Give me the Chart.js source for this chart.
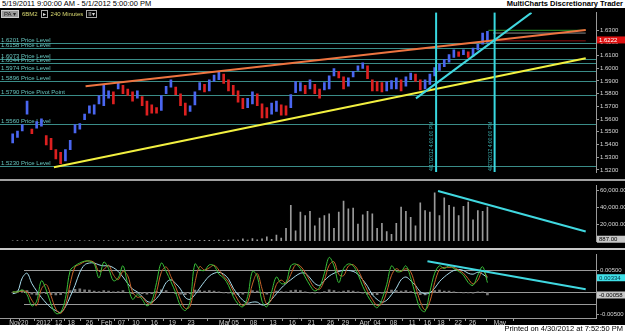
<!DOCTYPE html>
<html>
<head>
<meta charset="utf-8">
<script src="https://cdn.jsdelivr.net/npm/chart.js@4.4.1/dist/chart.umd.min.js"></script>
<style>
  body { margin: 0; width: 625px; height: 333px; background: #000; overflow: hidden; position: relative;
         font-family: "Liberation Sans", Arial, sans-serif; }
  .strip { position: absolute; left: 0; width: 625px; height: 8px; background: #fff; color: #000;
           font-size: 7.5px; line-height: 8px; white-space: nowrap; }
  .strip .r { position: absolute; right: 2px; top: 0; }
  .sep { position: absolute; left: 0; width: 625px; height: 2px; background: #a0a0a0; }
  canvas { position: absolute; left: 0; }
  #bar { position: absolute; left: 1px; top: 10px; font-size: 6px; line-height: 6px; color: #d8d870; white-space: nowrap; }
  #bar span { display: inline-block; vertical-align: middle; margin-right: 3px; }
  #bar .box { border: 1px solid #aaa; color: #ddd; padding: 0 1px; }
  #bar .grey { background: #999; color: #222; border: 1px solid #ccc; padding: 0 2px; }
</style>
</head>
<body>
<div class="strip" style="top:0">&nbsp;5/19/2011 9:00:00 AM - 5/1/2012 5:00:00 PM<span class="r"><b>MultiCharts Discretionary Trader</b></span></div>
<canvas id="priceCanvas" width="625" height="171" style="top:8px"></canvas>
<div id="bar"><span class="grey">PA ▾</span><span>6BM2</span><span class="box">▸</span><span>240 Minutes</span><span class="box">II▾</span></div>
<div class="sep" style="top:179px"></div>
<canvas id="volCanvas" width="625" height="67" style="top:181px"></canvas>
<div class="sep" style="top:248px;background:#c8c8c8"></div>
<canvas id="oscCanvas" width="625" height="75" style="top:250px"></canvas>
<div class="strip" style="top:325px"><span class="r">Printed on 4/30/2012 at 7:52:50 PM</span></div>

<script>
// ---- data (one entry per bar, bar index 0..99) ----
const priceLow = [1.5411, 1.5455, 1.5506, 1.5638, 1.5484, 1.5528, 1.5543, 1.5396, 1.5359, 1.5286,
  1.5249, 1.5271, 1.5359, 1.5491, 1.5521, 1.5594, 1.5645, 1.5638, 1.5719, 1.5704,
  1.5763, 1.5719, 1.5836, 1.5799, 1.5785, 1.5741, 1.5763, 1.5704, 1.5631, 1.5645,
  1.5645, 1.5667, 1.5799, 1.5851, 1.5792, 1.5704, 1.5631, 1.5660, 1.5711, 1.5829,
  1.5814, 1.5821, 1.5895, 1.5909, 1.5880, 1.5821, 1.5792, 1.5733, 1.5682, 1.5689,
  1.5719, 1.5704, 1.5609, 1.5609, 1.5638, 1.5660, 1.5631, 1.5631, 1.5689, 1.5807,
  1.5821, 1.5799, 1.5836, 1.5799, 1.5763, 1.5829, 1.5836, 1.5939, 1.5924, 1.5836,
  1.5858, 1.5931, 1.5983, 1.5997, 1.5917, 1.5821, 1.5821, 1.5814, 1.5821, 1.5836,
  1.5836, 1.5821, 1.5858, 1.5909, 1.5895, 1.5829, 1.5836, 1.5873, 1.5939, 1.5983,
  1.6012, 1.6048, 1.6085, 1.6092, 1.6107, 1.6085, 1.6092, 1.6144, 1.6188, 1.6202];
const priceHigh = [1.5484, 1.5506, 1.5557, 1.5741, 1.5521, 1.5579, 1.5601, 1.5469, 1.5447, 1.5359,
  1.5337, 1.5359, 1.5433, 1.5557, 1.5565, 1.5638, 1.5704, 1.5711, 1.5785, 1.5865,
  1.5821, 1.5814, 1.5887, 1.5865, 1.5836, 1.5814, 1.5821, 1.5777, 1.5741, 1.5711,
  1.5689, 1.5785, 1.5858, 1.5909, 1.5851, 1.5799, 1.5726, 1.5704, 1.5814, 1.5887,
  1.5873, 1.5909, 1.5946, 1.5968, 1.5953, 1.5909, 1.5865, 1.5821, 1.5763, 1.5763,
  1.5814, 1.5799, 1.5719, 1.5689, 1.5726, 1.5741, 1.5711, 1.5704, 1.5792, 1.5895,
  1.5887, 1.5865, 1.5909, 1.5873, 1.5836, 1.5887, 1.5939, 1.5997, 1.5975, 1.5931,
  1.5924, 1.5975, 1.6019, 1.6041, 1.6019, 1.5909, 1.5895, 1.5887, 1.5895, 1.5902,
  1.5924, 1.5909, 1.5931, 1.5961, 1.5953, 1.5909, 1.5909, 1.5953, 1.6005, 1.6034,
  1.6070, 1.6107, 1.6144, 1.6129, 1.6144, 1.6129, 1.6158, 1.6188, 1.6276, 1.6290];

const volume = [300, 500, 200, 400, 300, 600, 200, 500, 300, 400,
  300, 500, 400, 200, 600, 300, 500, 400, 300, 500,
  400, 300, 600, 400, 500, 300, 700, 400, 500, 600,
  400, 800, 500, 600, 900, 500, 700, 1000, 600, 800,
  700, 900, 600, 1100, 800, 1000, 1500, 1000, 2500, 1200,
  3000, 1500, 2500, 5000, 2000, 7000, 3500, 15000, 42000, 12000,
  34000, 30000, 35000, 18000, 27000, 30000, 32000, 15000, 34000, 47000,
  38000, 39000, 20000, 31000, 35000, 32000, 15000, 21000, 11000, 8000,
  21000, 40000, 35000, 28000, 18000, 45000, 36000, 34000, 57000, 30000,
  51000, 42000, 40000, 30000, 41000, 46000, 25000, 36000, 35000, 40000];

const oscFast = [0.00011, 0.00011, 0.00053, -0.00053, -0.00309, -0.00202, 0.00266, 0.00053, -0.00266, -0.00479,
  -0.00458, -0.00138, 0.00500, 0.00606, 0.00670, 0.00713, 0.00713, 0.00649, 0.00330, 0.00692,
  0.00543, 0.00266, 0.00330, 0.00606, 0.00181, -0.00160, -0.00053, -0.00160, -0.00309, -0.00202,
  0.00223, 0.00670, 0.00479, 0.00245, -0.00011, -0.00309, -0.00415, -0.00202, 0.00649, 0.00521,
  0.00500, 0.00628, 0.00606, 0.00415, 0.00330, 0.00160, -0.00096, -0.00266, -0.00330, -0.00096,
  0.00479, 0.00372, -0.00202, -0.00330, 0.00011, 0.00351, 0.00202, 0.00223, 0.00606, 0.00649,
  0.00543, 0.00351, 0.00160, 0.00032, 0.00117, 0.00436, 0.00798, 0.00606, 0.00223, 0.00543,
  0.00649, 0.00606, 0.00415, 0.00138, -0.00074, -0.00245, -0.00351, -0.00160, 0.00181, 0.00606,
  0.00479, 0.00479, 0.00606, 0.00330, -0.00053, -0.00372, -0.00436, 0.00011, 0.00436, 0.00606,
  0.00543, 0.00606, 0.00543, 0.00479, 0.00394, 0.00223, 0.00160, 0.00394, 0.00585, 0.00223];
const oscSignal = [0.0001, 0.0001, 0.0003, 0.0001, -0.0018, -0.0030, 0.0008, 0.0018, -0.0008, -0.0038,
  -0.0048, -0.0030, 0.0020, 0.0058, 0.0064, 0.0070, 0.0072, 0.0068, 0.0048, 0.0052,
  0.0062, 0.0040, 0.0029, 0.0048, 0.0038, 0.0001, -0.0011, -0.0010, -0.0024, -0.0026,
  0.0001, 0.0046, 0.0058, 0.0036, 0.0012, -0.0017, -0.0037, -0.0032, 0.0022, 0.0059,
  0.0051, 0.0056, 0.0062, 0.0051, 0.0037, 0.0024, 0.0003, -0.0018, -0.0030, -0.0022,
  0.0019, 0.0043, 0.0008, -0.0027, -0.0016, 0.0018, 0.0028, 0.0021, 0.0041, 0.0063,
  0.0060, 0.0045, 0.0026, 0.0010, 0.0007, 0.0028, 0.0062, 0.0070, 0.0041, 0.0038,
  0.0060, 0.0063, 0.0051, 0.0028, 0.0003, -0.0016, -0.0030, -0.0026, 0.0001, 0.0039,
  0.0054, 0.0048, 0.0054, 0.0047, 0.0014, -0.0021, -0.0040, -0.0021, 0.0022, 0.0052,
  0.0057, 0.0057, 0.0057, 0.0051, 0.0044, 0.0031, 0.0019, 0.0028, 0.0049, 0.0035];
const oscSlow = [-0.00032, 0.00011, 0.00330, 0.00436, 0.00202, 0.00032, -0.00117, -0.00245, -0.00351, -0.00415,
  -0.00458, -0.00330, -0.00096, 0.00160, 0.00458, 0.00628, 0.00670, 0.00670, 0.00628, 0.00606,
  0.00606, 0.00564, 0.00479, 0.00351, 0.00202, 0.00074, 0.00011, -0.00096, -0.00202, -0.00223,
  -0.00138, 0.00011, 0.00223, 0.00287, 0.00202, 0.00074, -0.00117, -0.00160, -0.00053, 0.00096,
  0.00245, 0.00372, 0.00436, 0.00458, 0.00415, 0.00309, 0.00096, -0.00053, -0.00181, -0.00245,
  -0.00223, -0.00223, -0.00287, -0.00266, -0.00160, -0.00032, 0.00096, 0.00202, 0.00287, 0.00372,
  0.00436, 0.00436, 0.00330, 0.00202, 0.00160, 0.00266, 0.00372, 0.00436, 0.00479, 0.00500,
  0.00500, 0.00479, 0.00415, 0.00287, 0.00138, -0.00053, -0.00160, -0.00223, -0.00181, -0.00053,
  0.00096, 0.00287, 0.00351, 0.00266, 0.00160, 0.00011, -0.00032, -0.00011, 0.00096, 0.00245,
  0.00351, 0.00436, 0.00500, 0.00521, 0.00500, 0.00436, 0.00415, 0.00458, 0.00415, 0.00334];
const oscHist = [0.0000, 0.0003, 0.0005, 0.0004, -0.0004, -0.0006, -0.0002, -0.0003, -0.0005, -0.0006,
  -0.0005, -0.0002, 0.0004, 0.0007, 0.0008, 0.0006, 0.0005, 0.0003, 0.0002, 0.0004,
  0.0003, 0.0001, 0.0002, 0.0004, 0.0000, -0.0003, -0.0002, -0.0003, -0.0004, -0.0003,
  0.0002, 0.0006, 0.0004, 0.0000, -0.0003, -0.0004, -0.0005, -0.0003, 0.0005, 0.0004,
  0.0003, 0.0004, 0.0003, 0.0001, -0.0001, -0.0002, -0.0004, -0.0005, -0.0004, -0.0001,
  0.0004, 0.0003, -0.0002, -0.0004, 0.0000, 0.0003, 0.0002, 0.0001, 0.0004, 0.0005,
  0.0004, 0.0001, -0.0001, -0.0002, -0.0001, 0.0002, 0.0006, 0.0004, 0.0001, 0.0003,
  0.0004, 0.0003, 0.0001, -0.0002, -0.0004, -0.0005, -0.0005, -0.0002, 0.0002, 0.0005,
  0.0004, 0.0003, 0.0004, 0.0002, -0.0003, -0.0005, -0.0006, 0.0000, 0.0004, 0.0005,
  0.0003, 0.0003, 0.0001, 0.0000, -0.0001, -0.0001, -0.0002, 0.0001, 0.0001, -0.0006];

// price levels drawn across the pane
const levelValues = [1.6201, 1.6158, 1.6073, 1.6044, 1.5974, 1.5896, 1.5790, 1.5560, 1.5230];
const levelNames = ['1.6201 Price Level', '1.6158 Price Level', '1.6073 Price Level', '1.6044 Price Level',
  '1.5974 Price Level', '1.5896 Price Level', '1.5790 Price Pivot Point', '1.5560 Price Level', '1.5230 Price Level'];

// trend lines: [bar, value] pairs
const orangeTrend = [[15.2, 1.5858], [119.5, 1.6300]];
const yellowTrend = [[8.6, 1.5220], [119.5, 1.6078]];
const cyanTrend = [[84.1, 1.5762], [108.2, 1.6437]];
const volTrend = [[88.7, 59000], [119.5, 11200]];
const oscTrend = [[86.5, 0.0071], [119.5, 0.0007]];
const greenLevel = [[99.2, 1.6298], [119.5, 1.6298]];
const greyLevel = [[100.2, 1.6276], [119.5, 1.6276]];
const redLevel = [[100.5, 1.6215], [119.5, 1.6215]];

const markerBars = [88.3, 100.5];
const markerText = ['4/17/2012 4:00:00 PM', '4/27/2012 4:00:00 PM'];

const priceTicks = [1.52, 1.53, 1.54, 1.55, 1.56, 1.57, 1.58, 1.59, 1.60, 1.61, 1.62, 1.63];
const volTicks = [20000, 40000, 60000];
const oscTicks = [0.005, -0.005];
const oscLevels = [0.005, 0, -0.0027];

const tickPos = [0.5, 2.5, 6.4, 9.6, 12.2, 16.0, 19.6, 22.7, 25.7, 29.5, 33.3, 37.2, 44.2, 46.4, 50.2,
  54.3, 58.3, 62.3, 66.3, 69.4, 73.4, 76.0, 79.4, 83.3, 86.5, 89.3, 92.9, 95.9, 101.6];
const tickText = ['Nov', '20', '2012', '12', '18', '26', 'Feb', '07', '10', '16', '19', '23', 'Mar', '05', '08',
  '13', '16', '21', '26', '29', 'Apr', '04', '08', '11', '16', '18', '22', '26', 'May'];

const lastPrice = 1.6222;
const lastVolume = 887;

// ---- helpers ----
Chart.defaults.font.family = '"Liberation Sans", Arial, sans-serif';
Chart.defaults.animation = false;

const pts = arr => arr.map(p => ({ x: p[0], y: p[1] }));
const seg = (arr, color, w) => ({ type: 'line', data: pts(arr), borderColor: color, borderWidth: w,
  pointRadius: 0, fill: false });

function xScale(show) {
  return {
    type: 'linear', min: -0.5, max: 119.5, display: show,
    afterBuildTicks: s => { s.ticks = tickPos.map(v => ({ value: v })); },
    afterFit: s => { s.height = 7; },
    ticks: { autoSkip: false, maxRotation: 0, color: '#d0d0d0', font: { size: 6.5 }, padding: -2,
             callback: (v, i) => tickText[i] },
    grid: { drawOnChartArea: false, tickLength: 3, color: '#999' },
    border: { color: '#999' }
  };
}
function yScale(min, max, ticks, fmt) {
  return {
    position: 'right', min: min, max: max,
    afterBuildTicks: s => { s.ticks = ticks.map(v => ({ value: v })); },
    afterFit: s => { s.width = 29; },
    ticks: { color: '#d8d8d8', font: { size: 6 }, padding: 1, callback: fmt },
    grid: { drawOnChartArea: false, tickLength: 3, color: '#999' },
    border: { color: '#999' }
  };
}
function valueBox(chart, v, text, bg, fg) {
  const { ctx, chartArea: a, scales: { y } } = chart;
  const py = y.getPixelForValue(v);
  ctx.save();
  ctx.fillStyle = bg;
  ctx.fillRect(a.right + 1, py - 3.5, 28, 7);
  ctx.fillStyle = fg;
  ctx.font = '6px "Liberation Sans"';
  ctx.textBaseline = 'middle';
  ctx.fillText(text, a.right + 3, py + 0.5);
  ctx.restore();
}
const baseOpts = (scales) => ({
  responsive: false, animation: false,
  layout: { padding: 0, autoPadding: false },
  plugins: { legend: { display: false }, tooltip: { enabled: false } },
  scales: scales
});

// ---- price pane ----
const mids = priceLow.map((l, i) => (l + priceHigh[i]) / 2);
const barColors = mids.map((m, i) => (i > 0 && m < mids[i - 1]) ? '#dd2020' : '#4a66f0');

const priceDecor = {
  id: 'priceDecor',
  beforeDatasetsDraw(chart) {
    const { ctx, chartArea: a, scales: { y } } = chart;
    ctx.save();
    ctx.lineWidth = 1;
    ctx.font = '6px "Liberation Sans"';
    levelValues.forEach((v, i) => {
      const py = Math.round(y.getPixelForValue(v)) + 0.5;
      ctx.strokeStyle = '#3a8c88';
      ctx.beginPath(); ctx.moveTo(a.left, py); ctx.lineTo(a.right, py); ctx.stroke();
      ctx.fillStyle = '#66c2bc';
      ctx.fillText(levelNames[i], a.left + 1, py - 1.5);
    });
    ctx.restore();
  },
  afterDatasetsDraw(chart) {
    const { ctx, chartArea: a, scales: { x } } = chart;
    ctx.save();
    markerBars.forEach((b, i) => {
      const px = x.getPixelForValue(b);
      ctx.strokeStyle = '#38d8e0'; ctx.lineWidth = 2;
      ctx.beginPath(); ctx.moveTo(px, a.top); ctx.lineTo(px, a.bottom); ctx.stroke();
      ctx.save();
      ctx.translate(px - 4, a.bottom - 1);
      ctx.rotate(-Math.PI / 2);
      ctx.fillStyle = '#3ab0b0';
      ctx.font = '5px "Liberation Sans"';
      ctx.textBaseline = 'middle';
      ctx.fillText(markerText[i], 0, 0);
      ctx.restore();
    });
    ctx.restore();
  },
  afterDraw(chart) { valueBox(chart, lastPrice, lastPrice.toFixed(4), '#e01010', '#fff'); }
};

new Chart(document.getElementById('priceCanvas'), {
  type: 'bar',
  data: {
    datasets: [
      seg(cyanTrend, '#40d8e0', 2),
      seg(orangeTrend, '#ee7440', 2),
      seg(yellowTrend, '#f2f040', 2),
      seg(greenLevel, '#2a9a2a', 1),
      seg(greyLevel, '#8a8a8a', 1),
      seg(redLevel, '#8a1010', 1),
      { type: 'bar', data: priceLow.map((l, i) => ({ x: i, y: [l, priceHigh[i]] })),
        backgroundColor: barColors, barThickness: 2, borderWidth: 0 }
    ]
  },
  options: baseOpts({
    x: xScale(false),
    y: yScale(1.51831, 1.64371, priceTicks, v => v.toFixed(4))
  }),
  plugins: [priceDecor]
});

// ---- volume pane ----
new Chart(document.getElementById('volCanvas'), {
  type: 'bar',
  data: {
    datasets: [
      seg(volTrend, '#40d8e0', 2),
      { type: 'bar', data: volume.map((v, i) => ({ x: i, y: v })),
        backgroundColor: '#9a9a9a', barThickness: 1, borderWidth: 0 }
    ]
  },
  options: baseOpts({
    x: xScale(false),
    y: yScale(0, 65400, volTicks,
      v => v.toLocaleString('en-US', { minimumFractionDigits: 2, maximumFractionDigits: 2 }))
  }),
  plugins: [{ id: 'volBox', afterDraw: c => valueBox(c, lastVolume + 1200, lastVolume.toFixed(2), '#c8c8c8', '#000') }]
});

// ---- oscillator pane ----
const oscDecor = {
  id: 'oscDecor',
  beforeDatasetsDraw(chart) {
    const { ctx, chartArea: a, scales: { y } } = chart;
    ctx.save();
    ctx.strokeStyle = '#9a9a9a'; ctx.lineWidth = 1;
    oscLevels.forEach(v => {
      const py = Math.round(y.getPixelForValue(v)) + 0.5;
      ctx.beginPath(); ctx.moveTo(a.left + 24, py); ctx.lineTo(a.right, py); ctx.stroke();
    });
    ctx.restore();
  },
  afterDraw(chart) {
    valueBox(chart, oscSlow[oscSlow.length - 1], oscSlow[oscSlow.length - 1].toFixed(5), '#40e0e8', '#003040');
    valueBox(chart, oscHist[oscHist.length - 1], '-0.00058', '#c8c8c8', '#000');
  }
};

const oscLine = (arr, color) => ({ type: 'line', data: arr.map((v, i) => ({ x: i, y: v })),
  borderColor: color, borderWidth: 1, pointRadius: 0, tension: 0.35, fill: false });

new Chart(document.getElementById('oscCanvas'), {
  type: 'bar',
  data: {
    datasets: [
      seg(oscTrend, '#40d8e0', 2),
      oscLine(oscFast, '#38c038'),
      oscLine(oscSignal, '#c8642a'),
      oscLine(oscSlow, '#a8dcec'),
      { type: 'bar', data: oscHist.map((v, i) => ({ x: i, y: v })),
        backgroundColor: '#7a7a7a', barThickness: 2, borderWidth: 0 }
    ]
  },
  options: baseOpts({
    x: xScale(true),
    y: yScale(-0.00585, 0.00862, oscTicks, v => v.toFixed(5))
  }),
  plugins: [oscDecor]
});
</script>
</body>
</html>
